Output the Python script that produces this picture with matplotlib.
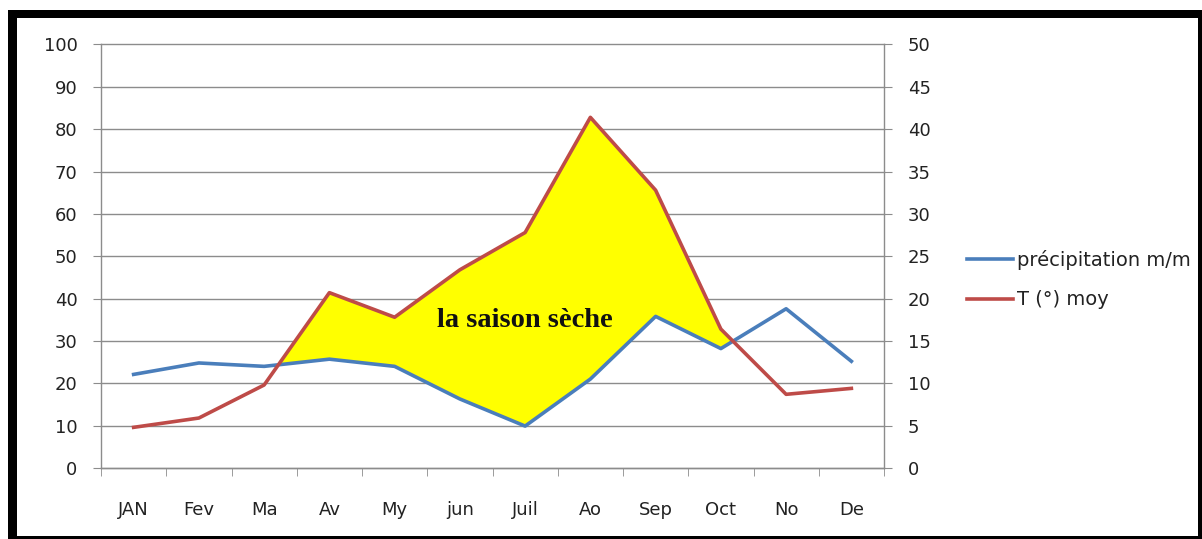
import matplotlib.pyplot as plt
import numpy as np
from matplotlib.patches import Rectangle

# monthly data
months = ["JAN", "Fev", "Ma", "Av", "My", "jun", "Juil", "Ao", "Sep", "Oct", "No", "De"]
precipitation = [22.1, 24.8, 24.0, 25.7, 24.0, 16.3, 9.9, 21.0, 35.8, 28.2, 37.6, 25.2]
temperature = [4.8, 5.9, 9.8, 20.7, 17.8, 23.4, 27.8, 41.4, 32.8, 16.4, 8.7, 9.4]
left_ticks = list(range(0, 101, 10))
right_ticks = list(range(0, 51, 5))

W, H = 1202, 539
BLUE = "#4A7EBB"
RED = "#BE4B48"
GRID = "#8C8C8C"
TEXT = "#222222"
FS = 13


def px_rect(fig, x0, y0, x1, y1, **kw):
    """Rectangle given in pixel coordinates from the top left corner"""
    fig.add_artist(Rectangle((x0 / W, 1 - y1 / H), (x1 - x0) / W, (y1 - y0) / H,
                             transform=fig.transFigure, **kw))


def main():
    plt.rcParams["font.family"] = ["DejaVu Sans"]
    fig = plt.figure(figsize=(W / 100, H / 100), dpi=100)
    ax = fig.add_axes([101 / W, 1 - 468 / H, 783 / W, 423.5 / H])
    ax2 = ax.twinx()

    x = np.arange(len(months))
    temp = np.array(temperature)
    prec = np.array(precipitation)

    # temperature is on the right axis (half scale), so compare in left units
    ax.fill_between(x, prec, temp * 2, where=temp * 2 >= prec, interpolate=True,
                    color="#FFFF00", lw=0, zorder=1)
    ax.plot(x, prec, color=BLUE, lw=2.6, zorder=3, label="précipitation m/m")
    ax2.plot(x, temp, color=RED, lw=2.6, zorder=3, label="T (°) moy")

    ax.set_xlim(-0.5, len(months) - 0.5)
    ax.set_ylim(0, 100)
    ax2.set_ylim(0, 50)
    ax.set_yticks(left_ticks)
    ax2.set_yticks(right_ticks)
    ax.set_xticks(x)
    ax.set_xticklabels(months)
    ax.set_xticks(np.arange(-0.5, len(months), 1), minor=True)
    ax.tick_params(axis="x", which="major", length=0, pad=24, labelsize=FS,
                   labelcolor=TEXT)
    ax.tick_params(axis="x", which="minor", length=6, color=GRID)
    ax.tick_params(axis="y", length=6, color=GRID, labelsize=FS, pad=11,
                   labelcolor=TEXT)
    ax2.tick_params(axis="y", length=6, color=GRID, labelsize=FS, pad=11,
                    labelcolor=TEXT)

    ax.yaxis.grid(True, color=GRID, lw=1)
    for gl in ax.get_ygridlines():
        gl.set_clip_on(False)
    ax.set_axisbelow(True)
    for a in (ax, ax2):
        a.spines["top"].set_visible(False)
        for side in ("left", "right", "bottom"):
            a.spines[side].set_color(GRID)
            a.spines[side].set_linewidth(1)
    ax.spines["right"].set_visible(False)
    ax2.spines["left"].set_visible(False)
    ax2.spines["bottom"].set_visible(False)

    ax.text(6.0, 33.3, "la saison sèche", ha="center", va="baseline",
            family=["Liberation Serif"], fontweight="bold", fontsize=20.5,
            color="#111111", zorder=5)

    handles = ax.get_lines() + ax2.get_lines()
    fig.legend(handles, [h.get_label() for h in handles], loc="upper left",
               bbox_to_anchor=(967 / W, 1 - 250 / H), frameon=False,
               fontsize=14, handlelength=2.35, handletextpad=0.2,
               labelspacing=1.05, borderpad=0, borderaxespad=0,
               labelcolor=TEXT)

    # black frame around the whole chart, thicker at the top and left
    px_rect(fig, 8, 10, 1202, 18, color="black", lw=0)
    px_rect(fig, 8, 10, 17, 539, color="black", lw=0)
    px_rect(fig, 1198, 10, 1202, 539, color="black", lw=0)
    px_rect(fig, 8, 536, 1202, 539, color="black", lw=0)

    fig.savefig("out.png", dpi=100)


if __name__ == "__main__":
    main()
